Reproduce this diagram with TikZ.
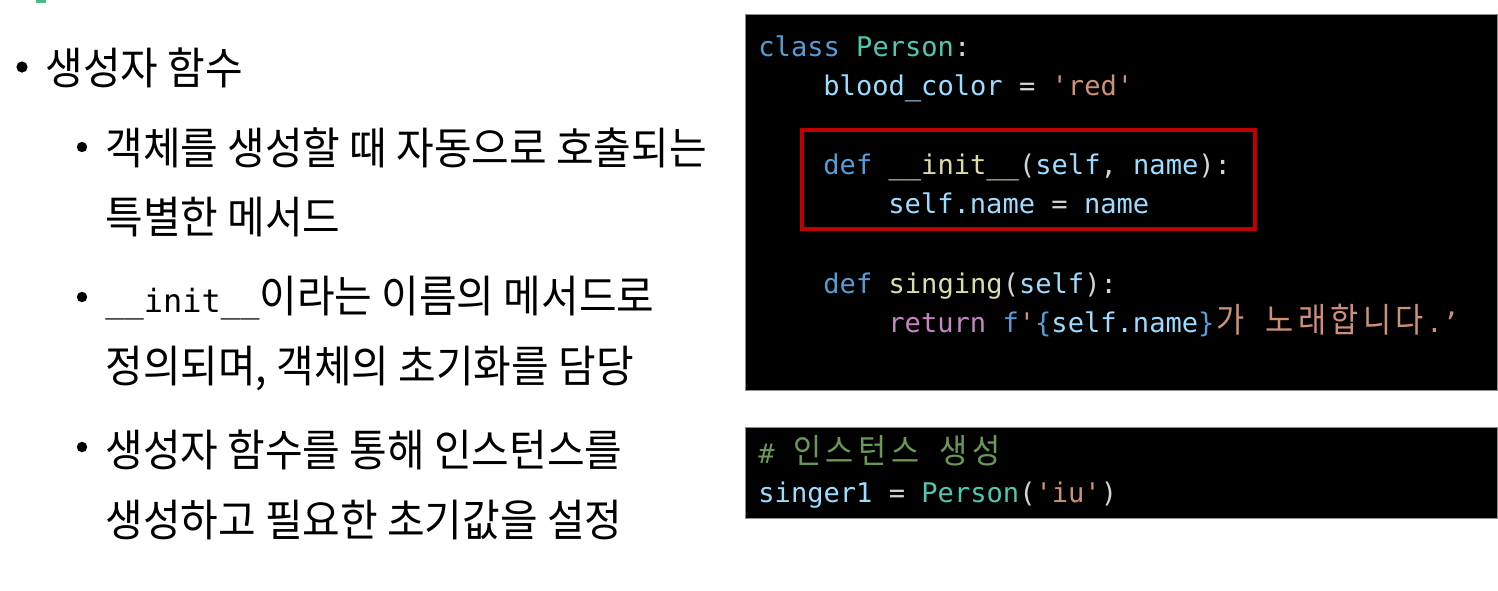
\documentclass[tikz,border=0pt]{standalone}
\usepackage{fontspec}
\setmainfont{Noto Sans CJK KR}[FakeStretch=0.93]
\setmonofont{DejaVu Sans Mono}
\newfontfamily\cjkcode{Noto Sans CJK KR}[FakeStretch=0.9]
\usepackage{tikz}
\usetikzlibrary{arrows}

\definecolor{kw}{HTML}{569CD6}
\definecolor{cls}{HTML}{4EC9B0}
\definecolor{var}{HTML}{9CDCFE}
\definecolor{str}{HTML}{CE9178}
\definecolor{fn}{HTML}{DCDCAA}
\definecolor{ctl}{HTML}{C586C0}
\definecolor{pun}{HTML}{D4D4D4}
\definecolor{cmt}{HTML}{6A9955}
\definecolor{boxred}{HTML}{C00000}
\definecolor{tabgreen}{HTML}{4CBB87}

% one hangul letter in a code line takes two cells
\newcommand\hg[1]{\makebox[16.3pt]{\cjkcode\fontsize{17}{18}\selectfont #1}}

\begin{document}
\begin{tikzpicture}[x=0.5pt,y=-0.5pt]

  %Styles for picture
  \tikzset
  {
  bigdot/.style={circle, inner sep=0pt, outer sep=0pt, minimum size=5.6pt, fill=black},
  smalldot/.style={circle, inner sep=0pt, outer sep=0pt, minimum size=5.2pt, fill=black},
  head/.style={anchor=west, inner sep=0pt, font=\fontsize{22}{26}\selectfont},
  item/.style={anchor=west, inner sep=0pt, font=\fontsize{22}{26}\selectfont},
  code/.style={anchor=base west, inner sep=0pt, text=pun, font=\ttfamily\fontsize{13.54}{16}\selectfont},
  codebox/.style={fill=black, draw=black!45, line width=0.5pt},
  }

  \useasboundingbox (0,0) rectangle (1498,590);
  \fill[tabgreen] (36,0) rectangle (46,3);

  % Bullets
  \node[bigdot] (b0) at (22,67) {};
  \node[smalldot] (b1) at (82,147) {};
  \node[smalldot] (b2) at (82,297) {};
  \node[smalldot] (b3) at (82,447) {};

  % Text
  \node[head] (t0) at (45,68) {생성자 함수};
  \node[item] (t1) at (105,148) {객체를 생성할 때 자동으로 호출되는};
  \node[item] (t2) at (105,217) {특별한 메서드};
  \node[item] (t3) at (105,298) {{\ttfamily\fontsize{16}{20}\selectfont\_\_init\_\_}이라는 이름의 메서드로};
  \node[item] (t4) at (105,368) {정의되며, 객체의 초기화를 담당};
  \node[item] (t5) at (105,450) {생성자 함수를 통해 인스턴스를};
  \node[item] (t6) at (105,520) {생성하고 필요한 초기값을 설정};

  % Code boxes
  \draw[codebox] (745,14) rectangle (1497,390);
  \draw[codebox] (745,427) rectangle (1497,518);
  \draw[boxred, line width=2pt] (802,130) rectangle (1255,229);

  % Code
  \node[code] (c1) at (758,56) {\textcolor{kw}{class} \textcolor{cls}{Person}:};
  \node[code] (c2) at (823,95) {\textcolor{var}{blood\_color} = \textcolor{str}{'red'}};
  \node[code] (c3) at (823,174) {\textcolor{kw}{def} \textcolor{fn}{\_\_init\_\_}(\textcolor{var}{self}, \textcolor{var}{name}):};
  \node[code] (c4) at (888,213) {\textcolor{var}{self.name} = \textcolor{var}{name}};
  \node[code] (c5) at (823,293) {\textcolor{kw}{def} \textcolor{fn}{singing}(\textcolor{var}{self}):};
  \node[code] (c6) at (888,332) {\textcolor{ctl}{return} \textcolor{kw}{f}\textcolor{str}{'}\textcolor{kw}{\{}\textcolor{var}{self.name}\textcolor{kw}{\}}\textcolor{str}{\hg{가} \hg{노}\hg{래}\hg{합}\hg{니}\hg{다}.’}};
  \node[code] (d1) at (758,463) {\textcolor{cmt}{\# \hg{인}\hg{스}\hg{턴}\hg{스} \hg{생}\hg{성}}};
  \node[code] (d2) at (758,502) {\textcolor{var}{singer1} = \textcolor{cls}{Person}(\textcolor{str}{'iu'})};
\end{tikzpicture}
\end{document}
